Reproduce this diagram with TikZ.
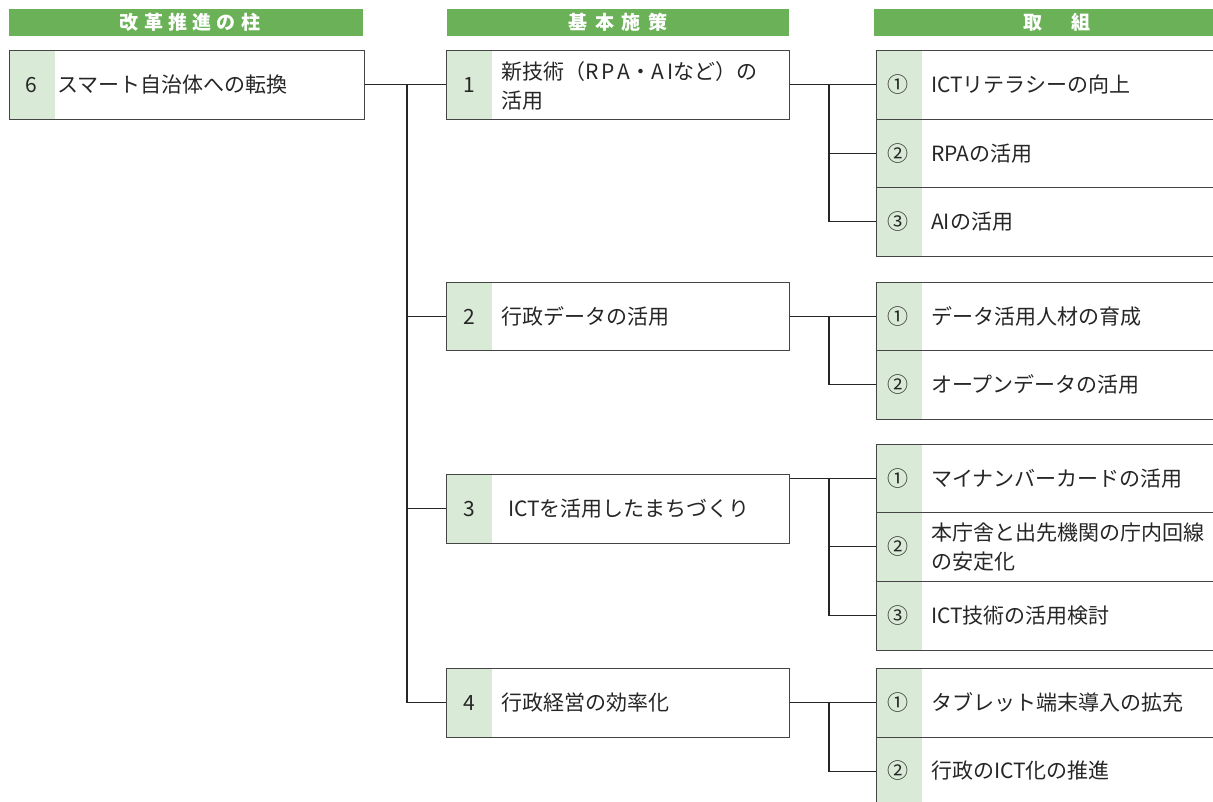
\documentclass[tikz,border=0pt]{standalone}
\usepackage{fontspec}
\setmainfont{Noto Sans CJK JP}
\definecolor{hdrc}{HTML}{6AB157}
\definecolor{stripc}{HTML}{D9EBD6}
\definecolor{linec}{HTML}{454545}
\definecolor{txtc}{HTML}{262626}
\newcommand\stt{\rule[-2.5pt]{0pt}{21pt}}
\tikzset{
  hdr/.style={fill=hdrc, minimum height=27pt, anchor=north west, inner sep=0pt},
  hdrtext/.style={text=white, inner sep=0pt, font=\fontsize{19}{21}\selectfont\bfseries,
    text height=16.7pt, text depth=2.3pt},
  box/.style={draw=linec, line width=1.3pt, fill=white, minimum height=68.5pt, anchor=north west,
    inner sep=0pt, path picture={\fill[stripc] (path picture bounding box.north west) rectangle ([xshift=45pt]path picture bounding box.south west);}},
  num/.style={inner sep=0pt, text=txtc, font=\fontsize{21}{29}\selectfont, execute at begin node=\stt},
  lbl/.style={inner sep=0pt, anchor=west, text=txtc, align=left, font=\fontsize{21}{29}\selectfont, execute at begin node=\stt},
  conn/.style={draw=txtc, line width=1.1pt},
}
\begin{document}
\begin{tikzpicture}[x=1pt, y=-1pt]
\useasboundingbox (0,0) rectangle (1213,801);
\clip (0,0) rectangle (1213,801);
% headers
\node[hdr, minimum width=354pt] (h1) at (9,9) {};
\node[hdrtext] (h1t) at (190,22.5) {改\hspace{5.3pt}革\hspace{5.3pt}推\hspace{5.3pt}進\hspace{5.3pt}の\hspace{5.3pt}柱};
\node[hdr, minimum width=342pt] (h2) at (447,9) {};
\node[hdrtext] (h2t) at (618,22.5) {基\hspace{7.5pt}本\hspace{7.5pt}施\hspace{7.5pt}策};
\node[hdr, minimum width=350pt] (h3) at (874,9) {};
\node[hdrtext] (h3t) at (1057,22.5) {取\hspace{29pt}組};
% level 1
\node[box, minimum width=355pt] (b6) at (9,50) {};
\node[num] (b6n) at (31,84) {6};
\node[lbl] (b6t) at (57,84) {スマート自治体への転換};
% level 2
\node[box, minimum width=343pt] (m1) at (446,50) {};
\node[num] (m1n) at (469,84) {1};
\node[lbl] (m1t) at (501,86) {新技術（R\kern3pt P\kern3pt A・A\kern3pt Iなど）の\\\stt 活用};
\node[box, minimum width=343pt] (m2) at (446,281.5) {};
\node[num] (m2n) at (469,316) {2};
\node[lbl] (m2t) at (501,316) {行政データの活用};
\node[box, minimum width=343pt] (m3) at (446,474) {};
\node[num] (m3n) at (469,508.5) {3};
\node[lbl] (m3t) at (508,508.5) {ICTを活用したまちづくり};
\node[box, minimum width=343pt] (m4) at (446,668) {};
\node[num] (m4n) at (469,702.5) {4};
\node[lbl] (m4t) at (501,702.5) {行政経営の効率化};
% level 3
\node[box, minimum width=350pt] (r11) at (876,50) {};
\node[num] (r11n) at (898,84) {①};
\node[lbl] (r11t) at (931,84) {ICTリテラシーの向上};
\node[box, minimum width=350pt] (r12) at (876,118.5) {};
\node[num] (r12n) at (898,153) {②};
\node[lbl] (r12t) at (931,153) {RPAの活用};
\node[box, minimum width=350pt] (r13) at (876,187) {};
\node[num] (r13n) at (898,221) {③};
\node[lbl] (r13t) at (931,221) {AIの活用};
\node[box, minimum width=350pt] (r21) at (876,281.5) {};
\node[num] (r21n) at (898,316) {①};
\node[lbl] (r21t) at (931,316) {データ活用人材の育成};
\node[box, minimum width=350pt] (r22) at (876,350) {};
\node[num] (r22n) at (898,384) {②};
\node[lbl] (r22t) at (931,384) {オープンデータの活用};
\node[box, minimum width=350pt] (r31) at (876,443.5) {};
\node[num] (r31n) at (898,478) {①};
\node[lbl] (r31t) at (931,478) {マイナンバーカードの活用};
\node[box, minimum width=350pt] (r32) at (876,512) {};
\node[num] (r32n) at (898,546.5) {②};
\node[lbl] (r32t) at (931,547.5) {本庁舎と出先機関の庁内回線\\\stt の安定化};
\node[box, minimum width=350pt] (r33) at (876,581) {};
\node[num] (r33n) at (898,615) {③};
\node[lbl] (r33t) at (931,615) {ICT技術の活用検討};
\node[box, minimum width=350pt] (r41) at (876,668) {};
\node[num] (r41n) at (898,702) {①};
\node[lbl] (r41t) at (931,702) {タブレット端末導入の拡充};
\node[box, minimum width=350pt] (r42) at (876,736.5) {};
\node[num] (r42n) at (898,770) {②};
\node[lbl] (r42t) at (931,770) {行政のICT化の推進};
% connectors level 1 -> 2
\coordinate (j0) at (407,84);
\draw[conn] (b6.east) -- (m1.west);
\draw[conn] (j0) |- (m2.west);
\draw[conn] (j0) |- (m3.west);
\draw[conn] (j0) |- (m4.west);
% group 1
\coordinate (j1) at (829,84);
\draw[conn] (m1.east) -- (r11.west);
\draw[conn] (j1) |- (r12.west);
\draw[conn] (j1) |- (r13.west);
% group 2
\coordinate (j2) at (829,316);
\draw[conn] (m2.east) -- (r21.west);
\draw[conn] (j2) |- (r22.west);
% group 3
\coordinate (j3) at (829,478);
\draw[conn] (r31.west) -- (r31.west -| m3.east);
\draw[conn] (j3) |- (r32.west);
\draw[conn] (j3) |- (r33.west);
% group 4
\coordinate (j4) at (829,702.5);
\draw[conn] (m4.east) -- (r41.west);
\draw[conn] (j4) |- (r42.west);
\end{tikzpicture}
\end{document}
